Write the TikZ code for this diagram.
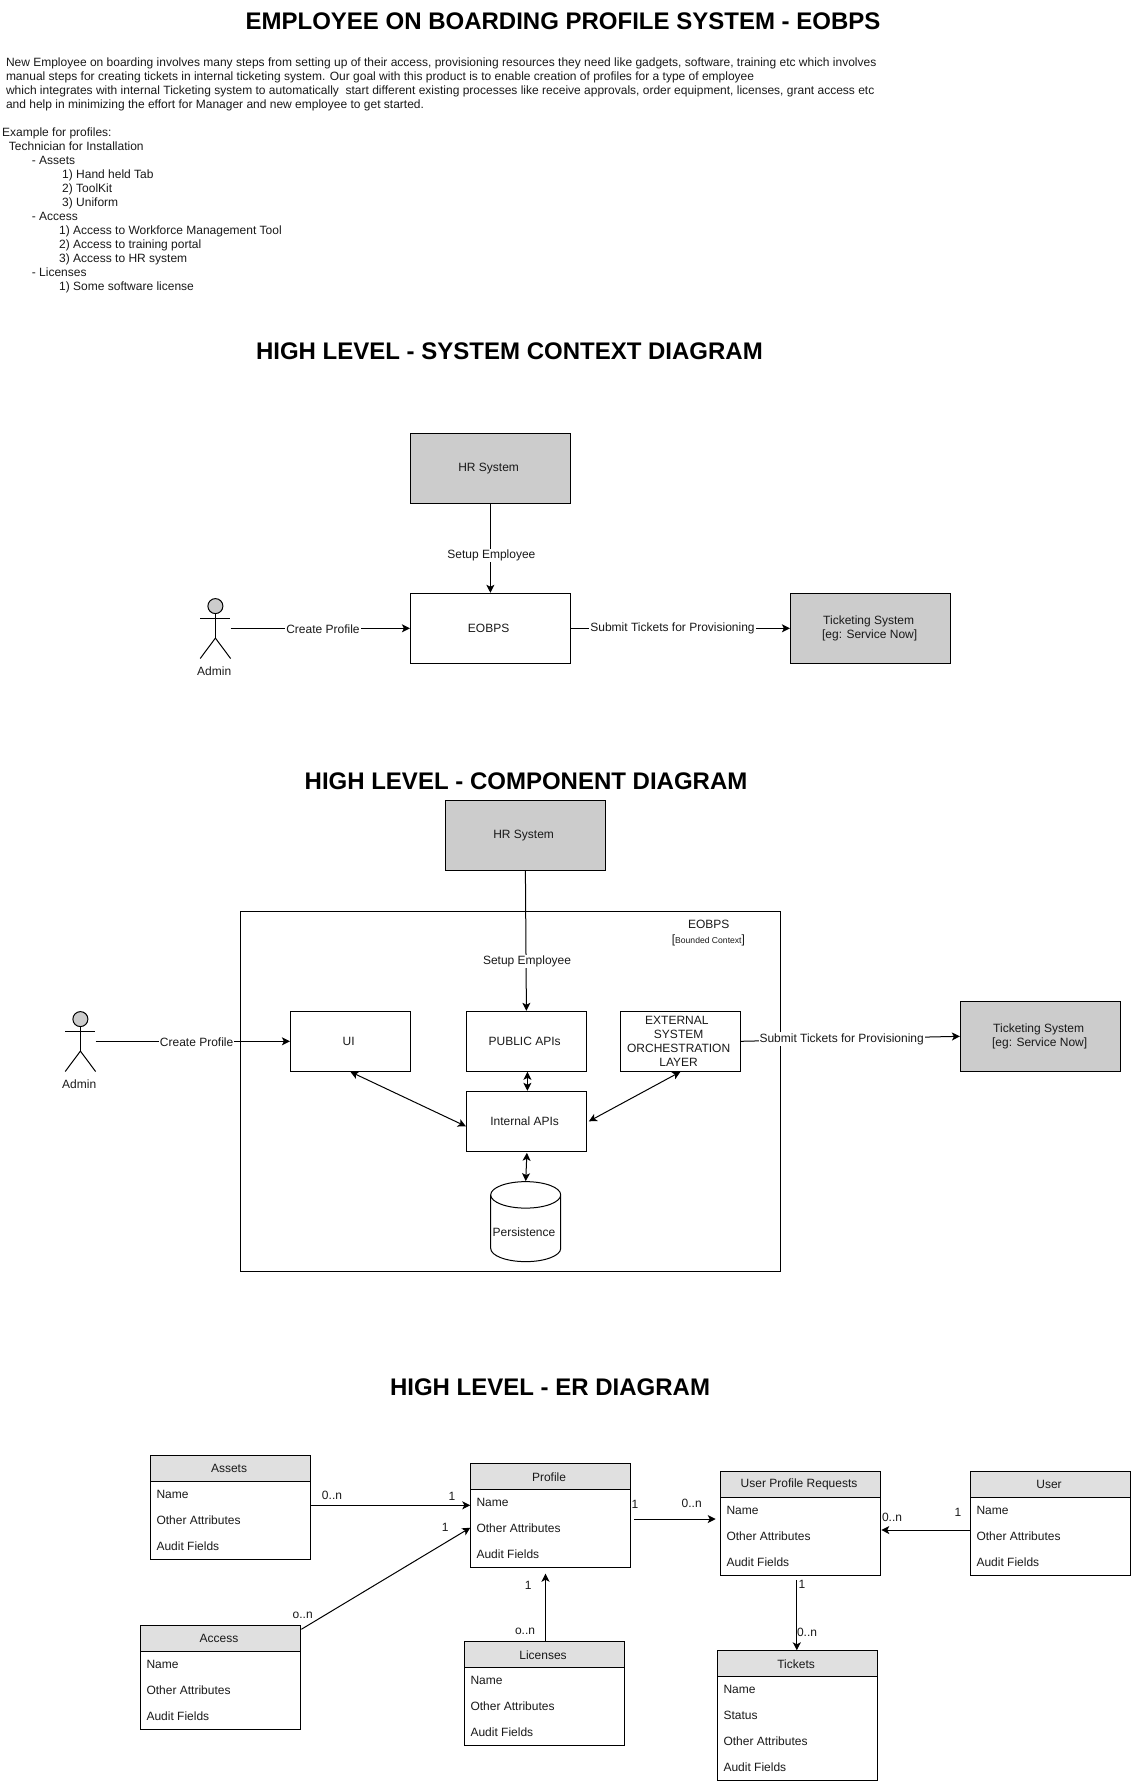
\documentclass[tikz,border=0pt]{standalone}
\usepackage{fontspec}
\setmainfont{Liberation Sans}
\usetikzlibrary{arrows.meta,positioning,shapes.geometric}
\definecolor{syscolor}{HTML}{CCCCCC}
\definecolor{headcolor}{HTML}{E0E0E0}
\newcommand{\nudge}{\hspace*{3.5pt}}
\tikzset{
  base/.style={font=\fontsize{12}{14}\selectfont,text=black!90},
  heading/.style={font=\fontsize{24}{28}\selectfont\bfseries,inner sep=0pt},
  plain/.style={base,anchor=north west,inner sep=0pt,align=left},
  box/.style={base,draw,line width=1pt,minimum width=160pt,minimum height=70pt,inner sep=0pt,align=center,execute at end node=\nudge},
  sysbox/.style={box,fill=syscolor},
  compbox/.style={box,minimum width=120pt,minimum height=60pt},
  link/.style={line width=1pt,-{Stealth[length=8pt,width=8pt,inset=2pt]}},
  duplex/.style={line width=1pt,{Stealth[length=8pt,width=8pt,inset=2pt]}-{Stealth[length=8pt,width=8pt,inset=2pt]}},
  tag/.style={base,fill=white,inner sep=1pt},
  card/.style={base,inner sep=0pt},
  entity/.style={draw,line width=1pt,minimum width=160pt,inner sep=0pt},
  entityhead/.style={base,draw,line width=1pt,fill=headcolor,minimum width=160pt,minimum height=26pt,inner sep=0pt,execute at end node=\nudge},
  entityrow/.style={base,anchor=west,inner sep=0pt}
}
% actor figure: invisible frame, head, limbs, caption
\newcommand{\actorfig}[2]{
  \node[minimum width=30pt,minimum height=60pt,inner sep=0pt] (#1) at (#2) {};
  \node[circle,draw,line width=1pt,fill=syscolor,minimum size=15pt,inner sep=0pt,anchor=north] (#1head) at (#1.north) {};
  \coordinate (#1hip) at ([yshift=-40pt]#1.north);
  \draw[line width=1pt] (#1head.south) -- (#1hip) (#1.west |- #1.center) ++(0,-10) -- ++(30,0);
  \draw[line width=1pt] (#1.south west) -- (#1hip) -- (#1.south east);
  \node[base,inner sep=0pt,below=8pt of #1,xshift=-1.2pt] (#1name) {Admin};
}
% entity table: name, top left corner, height, title, rows
\newcommand{\entitybox}[5]{
  \node[entity,anchor=north west,minimum height=#3pt] (#1) at (#2) {};
  \node[entityhead,anchor=north] (#1head) at (#1.north) {#4};
  \foreach \rowtext [count=\i] in {#5}
    \node[entityrow] (#1row\i) at ([xshift=6pt,yshift=-13pt-26pt*\i]#1.north west) {\rowtext};
}

\begin{document}
\begin{tikzpicture}[x=1pt,y=-1pt]
  \useasboundingbox (0,0) rectangle (1131,1784);
  % page title and description
  \node[heading] (maintitle) at (563,21.5) {EMPLOYEE ON BOARDING PROFILE SYSTEM - EOBPS};
  \node[plain] (intro) at (5.8,57.8) {New Employee on boarding involves many steps from setting up of their access, provisioning resources they need like gadgets, software, training etc which involves\\
  manual steps for creating tickets in internal ticketing system. Our goal with this product is to enable creation of profiles for a type of employee\\
  which integrates with internal Ticketing system to automatically\ \ start different existing processes like receive approvals, order equipment, licenses, grant access etc\\
  and help in minimizing the effort for Manager and new employee to get started.};
  \node[plain] (profiles) at (2,127.8) {Example for profiles:\\
  \hspace*{6.7pt}Technician for Installation\\
  \hspace*{29.7pt}- Assets\\
  \hspace*{60pt}1) Hand held Tab\\
  \hspace*{60pt}2) ToolKit\\
  \hspace*{60pt}3) Uniform\\
  \hspace*{29.7pt}- Access\\
  \hspace*{57pt}1) Access to Workforce Management Tool\\
  \hspace*{57pt}2) Access to training portal\\
  \hspace*{57pt}3) Access to HR system\\
  \hspace*{29.7pt}- Licenses\\
  \hspace*{57pt}1) Some software license};

  % system context diagram
  \node[heading] (contexttitle) at (509.4,351.5) {HIGH LEVEL - SYSTEM CONTEXT DIAGRAM};
  \node[sysbox] (hr) at (490.4,468.3) {HR System};
  \node[box] (eobps) at (490.4,628.3) {EOBPS};
  \node[sysbox] (ticketing) at (870.4,628.3) {Ticketing System\\{[eg: Service Now]}\hspace*{-2pt}};
  \actorfig{admin}{215.4,628.3}
  \draw[link] (hr.south) -- node[tag,pos=.58,xshift=1pt] (setup) {Setup Employee} (eobps.north);
  \draw[link] (admin.east) -- node[tag,pos=.515,yshift=-1pt] (create) {Create Profile} (eobps.west);
  \draw[link] (eobps.east) -- node[tag,pos=.464] (submit) {Submit Tickets for Provisioning} (ticketing.west);

  % component diagram
  \node[heading] (componenttitle) at (526,781.7) {HIGH LEVEL - COMPONENT DIAGRAM};
  \node[box,minimum width=540pt,minimum height=360pt] (boundary) at (510.4,1091.3) {};
  \node[sysbox] (hrtwo) at (525.4,835.3) {HR System};
  \node[base,inner sep=0pt] (boundaryname) at (708.7,924.7) {EOBPS};
  \node[inner sep=0pt,base] (boundarykind) at (708.4,940) {[{\fontsize{8.6}{10}\selectfont Bounded Context}]};
  \node[compbox] (ui) at (350.4,1041.3) {UI};
  \node[compbox] (public) at (526.4,1041.3) {PUBLIC APIs};
  \node[compbox] (internal) at (526.4,1121.3) {Internal APIs};
  \node[compbox] (external) at (680.4,1041.3) {EXTERNAL\nudge\\SYSTEM\nudge\\ORCHESTRATION\nudge\\LAYER};
  \node[base,draw,line width=1pt,cylinder,shape border rotate=90,aspect=.4,minimum width=70pt,minimum height=80pt,inner sep=0pt,execute at end node=\nudge] (persistence) at (525.7,1228.5) {\raisebox{-7.5pt}[0pt][0pt]{Persistence}};
  \node[sysbox] (ticketingtwo) at (1040.4,1036.3) {Ticketing System\\{[eg: Service Now]}\hspace*{-2pt}};
  \actorfig{admintwo}{80.4,1041.3}
  \draw[link] (hrtwo.south) -- node[tag,pos=.65,xshift=1pt] (setuptwo) {Setup Employee} (public.north);
  \draw[link] (admintwo.east) -- node[tag,pos=.52,yshift=-1pt] (createtwo) {Create Profile} (ui.west);
  \draw[link] (external.east) -- node[tag,pos=.46] (submittwo) {Submit Tickets for Provisioning} (ticketingtwo.west);
  \draw[duplex] ([xshift=1pt]public.south) -- ([xshift=1pt]internal.north);
  \draw[duplex] (ui.south) -- ([yshift=-5pt]internal.west);
  \draw[duplex] ([xshift=2pt,yshift=0pt]internal.east) -- (external.south);
  \draw[duplex] ([xshift=.5pt,yshift=-1pt]internal.south) -- (persistence.top);

  % er diagram
  \node[heading] (ertitle) at (550,1387) {HIGH LEVEL - ER DIAGRAM};
  \entitybox{assets}{150.3,1455.3}{104}{Assets}{Name,Other Attributes,Audit Fields}
  \entitybox{profile}{470.3,1463.3}{104}{Profile}{Name,Other Attributes,Audit Fields}
  \entitybox{access}{140.3,1625.3}{104}{Access}{Name,Other Attributes,Audit Fields}
  \entitybox{licenses}{464.3,1641.3}{104}{Licenses}{Name,Other Attributes,Audit Fields}
  \entitybox{requests}{720.3,1471.3}{104}{User Profile Requests}{Name,Other Attributes,Audit Fields}
  \entitybox{user}{970.3,1471.3}{104}{User}{Name,Other Attributes,Audit Fields}
  \entitybox{tickets}{717.3,1650.3}{130}{Tickets}{Name,Status,Other Attributes,Audit Fields}
  \draw[link] ([yshift=-50pt]assets.north east) -- ([yshift=-42pt]profile.north west);
  \draw[link] ([yshift=-4pt]access.north east) -- ([yshift=-64.4pt]profile.north west);
  \draw[link] ([xshift=.7pt]licenses.north) -- ([xshift=-5.3pt,yshift=-5.4pt]profile.south);
  \draw[link] ([xshift=3pt,yshift=-55.7pt]profile.north east) -- ([xshift=-4.6pt,yshift=-47.7pt]requests.north west);
  \draw[link] ([yshift=-58.7pt]user.north west) -- ([yshift=-58.7pt]requests.north east);
  \draw[link] ([xshift=-4pt,yshift=-4pt]requests.south) -- ([xshift=-1pt]tickets.north);
  \node[card] (assetscard) at (332,1495.7) {0..n};
  \node[card] (profilecarda) at (452,1496) {1};
  \node[card] (profilecardb) at (445.3,1527.7) {1};
  \node[card] (accesscard) at (302.7,1615) {o..n};
  \node[card] (profilecardc) at (528.3,1585) {1};
  \node[card] (licensescard) at (525,1631) {o..n};
  \node[card] (profilecardd) at (635,1504.7) {1};
  \node[card] (requestscarda) at (691.7,1503.7) {0..n};
  \node[card] (requestscardb) at (892,1517) {0..n};
  \node[card] (usercard) at (958,1512.7) {1};
  \node[card] (requestscardc) at (802,1584.7) {1};
  \node[card] (ticketscard) at (807,1632.7) {0..n};
\end{tikzpicture}
\end{document}
